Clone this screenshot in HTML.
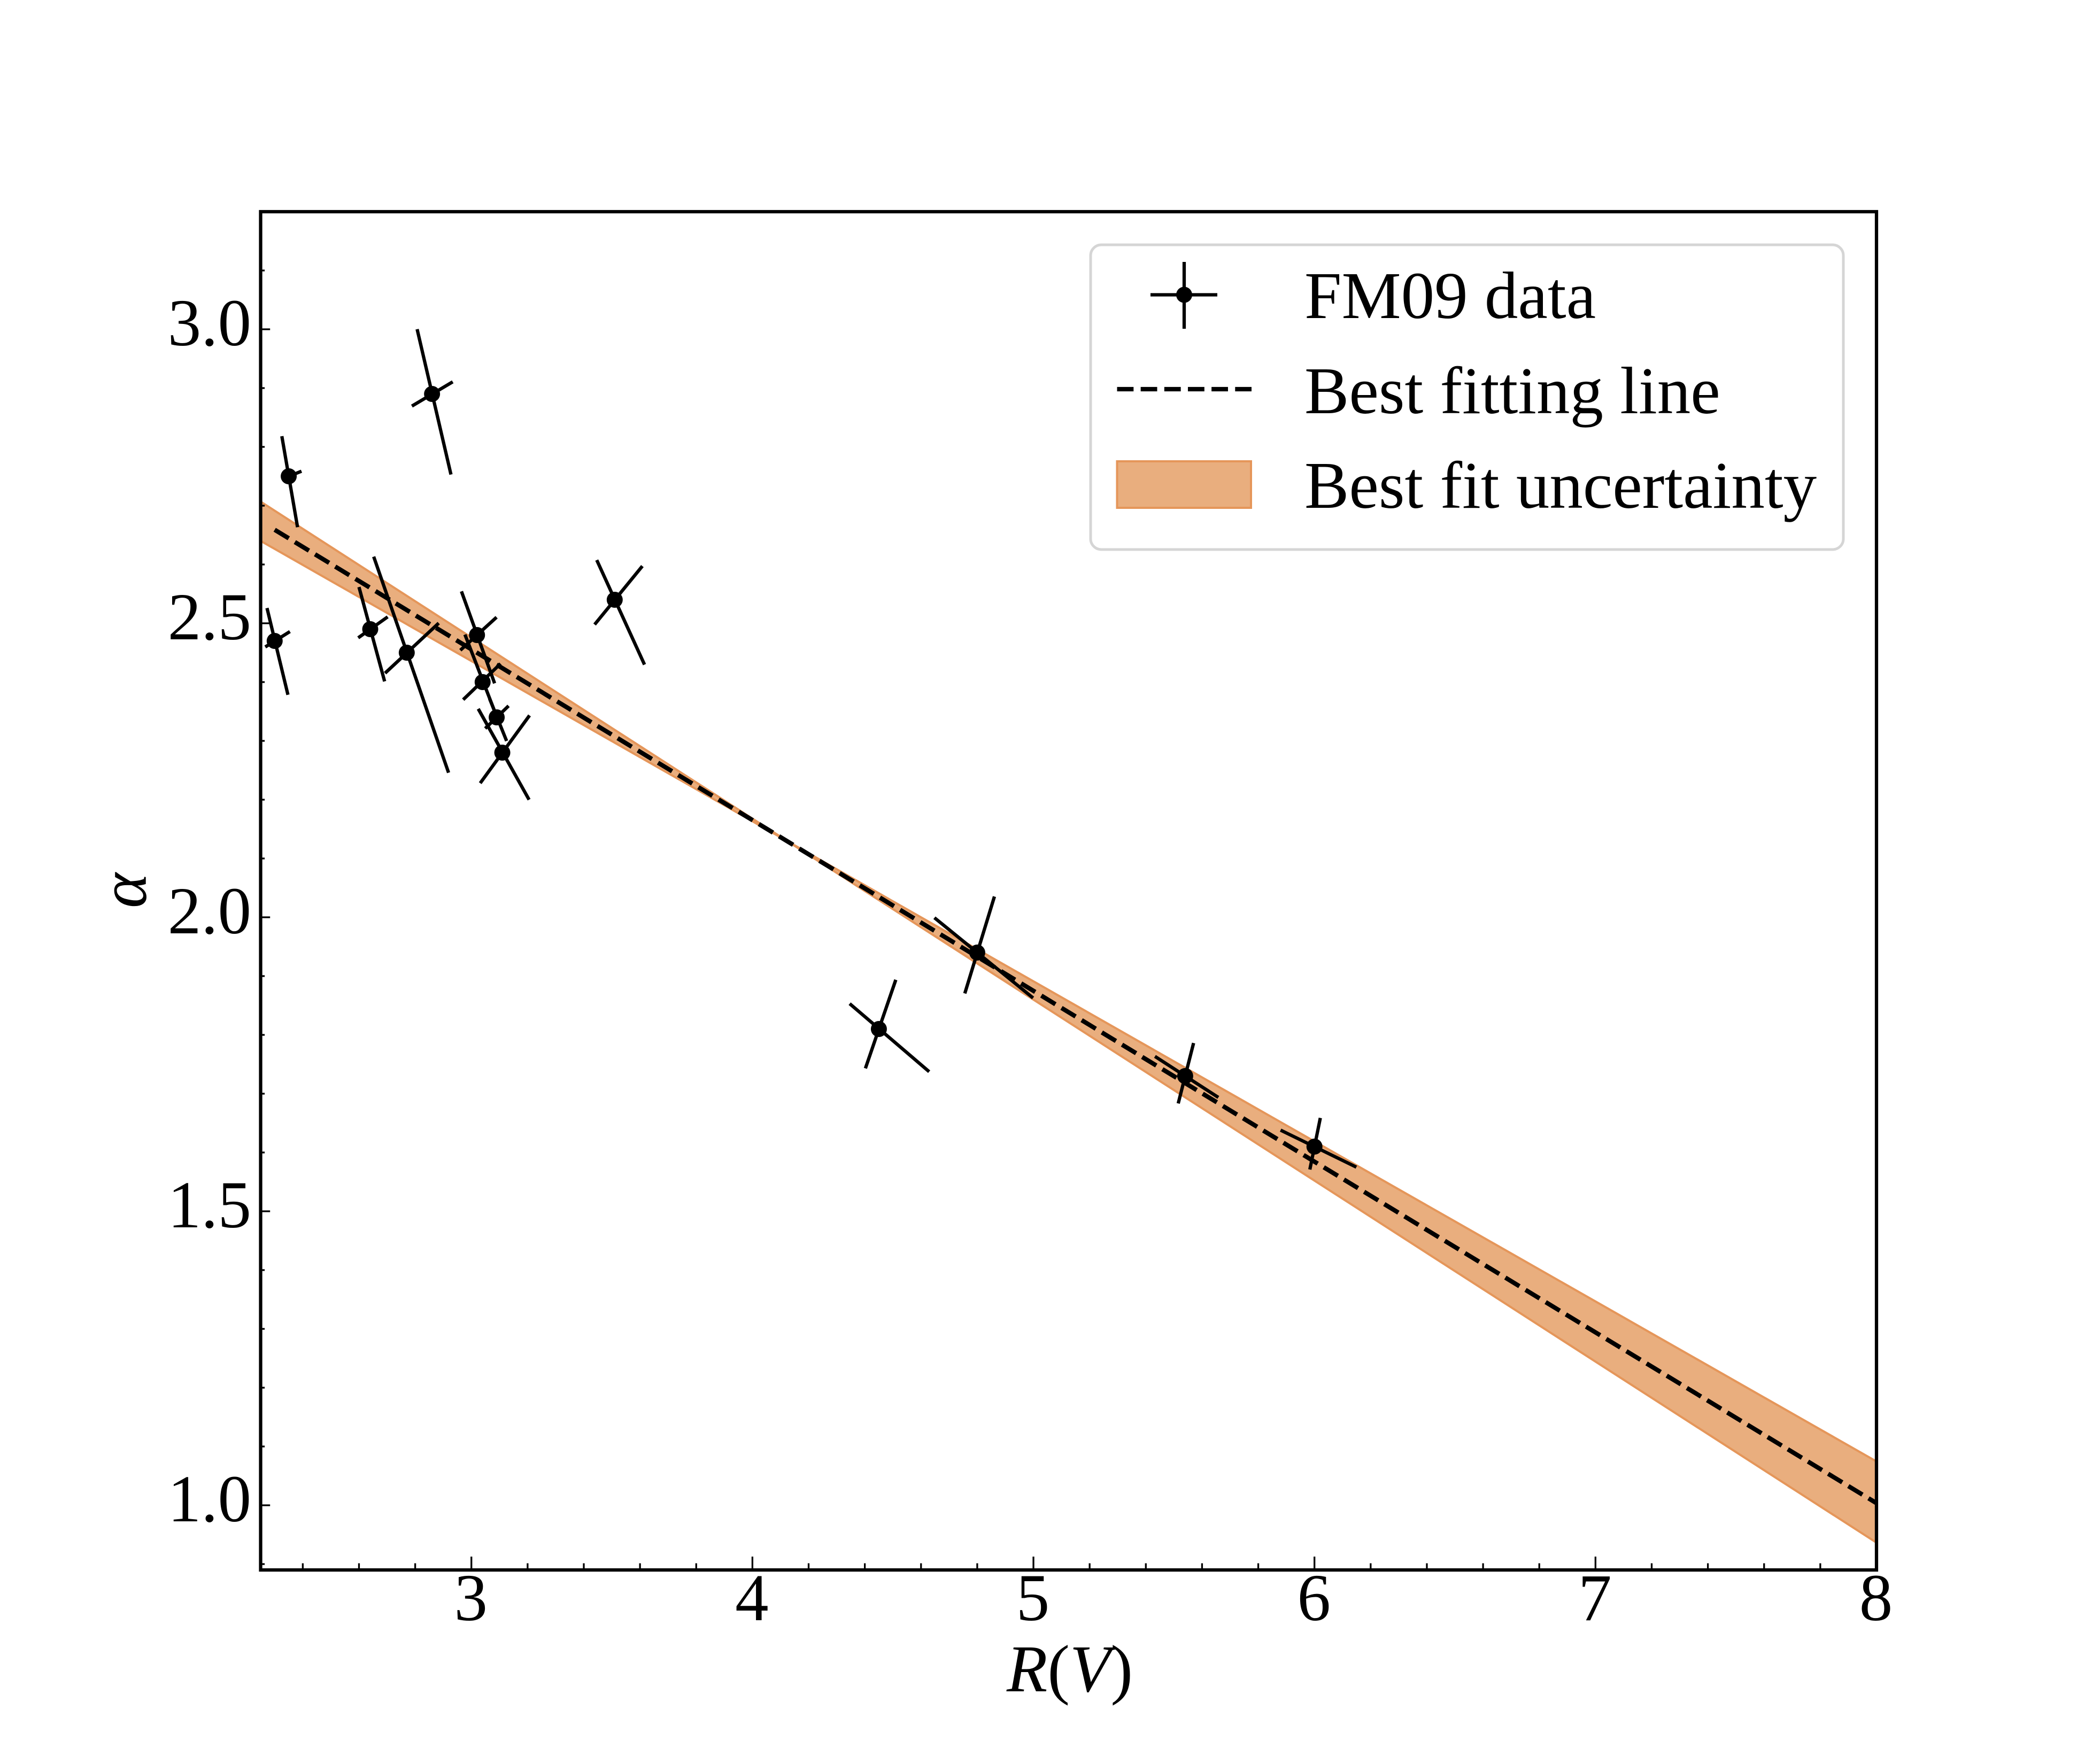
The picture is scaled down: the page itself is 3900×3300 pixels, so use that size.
<!DOCTYPE html>
<html lang="en">
<head>
<meta charset="utf-8">
<title>Alpha versus R(V)</title>
<style>
html,body{margin:0;padding:0;background:#fff;}
svg{display:block;}
text{font-family:"Liberation Serif",serif;fill:#000;}
</style>
</head>
<body>
<svg id="chart" xmlns="http://www.w3.org/2000/svg" width="3900" height="3300" viewBox="0 0 3900 3300">
  <rect x="0" y="0" width="3900" height="3300" fill="#fff"/>
  <defs><clipPath id="plot-clip"><rect x="487.5" y="396" width="3022.5" height="2541"/></clipPath></defs>
  <g id="band-layer" clip-path="url(#plot-clip)"></g>
  <g id="line-layer" clip-path="url(#plot-clip)"></g>
  <g id="points-layer" clip-path="url(#plot-clip)"></g>
  <g id="ticks-layer"></g>
  <rect x="487.5" y="396" width="3022.5" height="2541" fill="none" stroke="#000" stroke-width="6.25"/>
  <g id="labels-layer" font-size="125"></g>

  <text x="1883" y="3164" font-size="125"><tspan font-style="italic">R</tspan><tspan>(</tspan><tspan font-style="italic">V</tspan><tspan>)</tspan></text>
  <text transform="translate(273,1666) rotate(-90)" text-anchor="middle" font-size="125" font-style="italic">α</text>

  <g>
    <rect x="2040" y="458" width="1408" height="570" rx="20" ry="20" fill="#fff" fill-opacity="0.8" stroke="#d5d5d5" stroke-width="5"/>
    <g>
      <line x1="2152" y1="551.5" x2="2277" y2="551.5" stroke="#000" stroke-width="6.25"/>
      <line x1="2215" y1="490" x2="2215" y2="615" stroke="#000" stroke-width="6.25"/>
      <circle cx="2215" cy="551.5" r="15" fill="#000"/>
      <text x="2440" y="595" font-size="125">FM09 data</text>
    </g>
    <g>
      <line x1="2089.5" y1="728" x2="2341" y2="728" stroke="#000" stroke-width="8.33" stroke-dasharray="30.83 13.33"/>
      <text x="2440" y="773" font-size="125">Best fitting line</text>
    </g>
    <g>
      <rect x="2089.5" y="863" width="250.5" height="87" fill="#e9ae7e" stroke="#e5965a" stroke-width="4"/>
      <text x="2440" y="950" font-size="125">Best fit uncertainty</text>
    </g>
  </g>
</svg>
<script>
// ---- data ----
const pointX = [2.30, 2.35, 2.64, 2.77, 2.86, 3.02, 3.04, 3.09, 3.11, 3.51, 4.45, 4.80, 5.54, 6.00];
const pointY = [2.47, 2.75, 2.49, 2.45, 2.89, 2.48, 2.40, 2.34, 2.28, 2.54, 1.81, 1.94, 1.73, 1.61];

// first error arm: end points in data units
const armAx0 = [2.2727, 2.3255, 2.6000, 2.6524, 2.8069, 2.9646, 2.9770, 3.0647, 3.0244, 3.4461, 4.5102, 4.8612, 5.5699, 6.0209];
const armAy0 = [2.5259, 2.8182, 2.5616, 2.6133, 3.0002, 2.5543, 2.4808, 2.3717, 2.3545, 2.6075, 1.8937, 2.0353, 1.7861, 1.6587];
const armAx1 = [2.3472, 2.3814, 2.6912, 2.9188, 2.9273, 3.0826, 3.0880, 3.1253, 3.2053, 3.6160, 4.4021, 4.7558, 5.5152, 5.9836];
const armAy1 = [2.3784, 2.6634, 2.4012, 2.2459, 2.7530, 2.3979, 2.3439, 2.2999, 2.2000, 2.4297, 1.7431, 1.8705, 1.6834, 1.5710];

// second error arm: end points in data units
const armBx0 = [2.2665, 2.3348, 2.5973, 2.6928, 2.7883, 2.9607, 2.9708, 3.0492, 3.0314, 3.4385, 4.3461, 4.6477, 5.4324, 5.8795];
const armBy0 = [2.4597, 2.7469, 2.4753, 2.4152, 2.8694, 2.4541, 2.3701, 2.3211, 2.2281, 2.4979, 1.8531, 1.9992, 1.7634, 1.6380];
const armBx1 = [2.3542, 2.3954, 2.7021, 2.8838, 2.9335, 3.0896, 3.1036, 3.1323, 3.2069, 3.6084, 4.6290, 4.9987, 5.6580, 6.1491];
const armBy1 = [2.4859, 2.7586, 2.5109, 2.5003, 2.9106, 2.5103, 2.4313, 2.3595, 2.3433, 2.5973, 1.7374, 1.8628, 1.6936, 1.5751];

// best-fit line
const fitX = [2.30, 8.00];
const fitY = [2.659, 1.0036];

// uncertainty band
const bandX = [2.25, 4.126, 8.00];
const bandUpper = [2.7069, 2.129, 1.0745];
const bandLower = [2.6401, 2.129, 0.9365];

// ticks
const xTickLabels = ["3", "4", "5", "6", "7", "8"];
const yTickLabels = ["1.0", "1.5", "2.0", "2.5", "3.0"];
const xMinorTicks = [2.4, 2.6, 2.8, 3.2, 3.4, 3.6, 3.8, 4.2, 4.4, 4.6, 4.8, 5.2, 5.4, 5.6, 5.8, 6.2, 6.4, 6.6, 6.8, 7.2, 7.4, 7.6, 7.8];
const yMinorTicks = [0.9, 1.1, 1.2, 1.3, 1.4, 1.6, 1.7, 1.8, 1.9, 2.1, 2.2, 2.3, 2.4, 2.6, 2.7, 2.8, 2.9, 3.1];

// ---- axis functions ----
const xMin = 2.25, xMax = 8, yMin = 0.89, yMax = 3.2;
const axLeft = 487.5, axRight = 3510, axTop = 396, axBottom = 2937;
function X(v) { return axLeft + (v - xMin) * (axRight - axLeft) / (xMax - xMin); }
function Y(v) { return axBottom - (v - yMin) * (axBottom - axTop) / (yMax - yMin); }

const NS = "http://www.w3.org/2000/svg";
function mk(tag, parent) {
  const e = document.createElementNS(NS, tag);
  parent.appendChild(e);
  return e;
}
function seg(parent, x1, y1, x2, y2, w) {
  const l = mk("line", parent);
  l.setAttribute("x1", x1);
  l.setAttribute("y1", y1);
  l.setAttribute("x2", x2);
  l.setAttribute("y2", y2);
  l.setAttribute("stroke", "#000");
  l.setAttribute("stroke-width", w);
  return l;
}

// ---- band ----
const bandLayer = document.getElementById("band-layer");
const bandPts = [];
bandX.forEach((v, i) => bandPts.push(X(v) + "," + Y(bandUpper[i])));
for (let i = bandX.length - 1; i >= 0; i--) bandPts.push(X(bandX[i]) + "," + Y(bandLower[i]));
const band = mk("polygon", bandLayer);


band.setAttribute("points", bandPts.join(" "));
band.setAttribute("fill", "#e9ae7e");
band.setAttribute("stroke", "#e5965a");
band.setAttribute("stroke-width", "4");

// ---- fit line ----
const fit = seg(document.getElementById("line-layer"), X(fitX[0]), Y(fitY[0]), X(fitX[1]), Y(fitY[1]), 8.33);
fit.setAttribute("stroke-dasharray", "30.83 13.33");



// ---- points ----
const pointsLayer = document.getElementById("points-layer");
pointX.forEach((px, i) => {
  const g = mk("g", pointsLayer);
  
  
  seg(g, X(armAx0[i]), Y(armAy0[i]), X(armAx1[i]), Y(armAy1[i]), 6.25);
  seg(g, X(armBx0[i]), Y(armBy0[i]), X(armBx1[i]), Y(armBy1[i]), 6.25);
  const c = mk("circle", g);
  c.setAttribute("cx", X(px));
  c.setAttribute("cy", Y(pointY[i]));
  c.setAttribute("r", 15);
  c.setAttribute("fill", "#000");
});

// ---- ticks ----
const ticks = document.getElementById("ticks-layer");
const labels = document.getElementById("labels-layer");
xMinorTicks.forEach(v => {
  const t = seg(ticks, X(v), axBottom, X(v), axBottom - 12.5, 3.3);
  
  
});
yMinorTicks.forEach(v => {
  const t = seg(ticks, axLeft, Y(v), axLeft + 7.6, Y(v), 3.3);
  
  
});
xTickLabels.forEach(s => {
  const v = parseFloat(s);
  const t = seg(ticks, X(v), axBottom, X(v), axBottom - 25, 3.3);
  
  
  const lb = mk("text", labels);
  
  
  lb.setAttribute("x", X(v) - 1);
  lb.setAttribute("y", 3031);
  lb.setAttribute("text-anchor", "middle");
  lb.textContent = s;
});
yTickLabels.forEach(s => {
  const v = parseFloat(s);
  const t = seg(ticks, axLeft, Y(v), axLeft + 17.7, Y(v), 3.3);
  
  
  const lb = mk("text", labels);
  
  
  lb.setAttribute("x", 470);
  lb.setAttribute("y", Y(v) + 30);
  lb.setAttribute("text-anchor", "end");
  lb.textContent = s;
});
</script>
</body>
</html>
